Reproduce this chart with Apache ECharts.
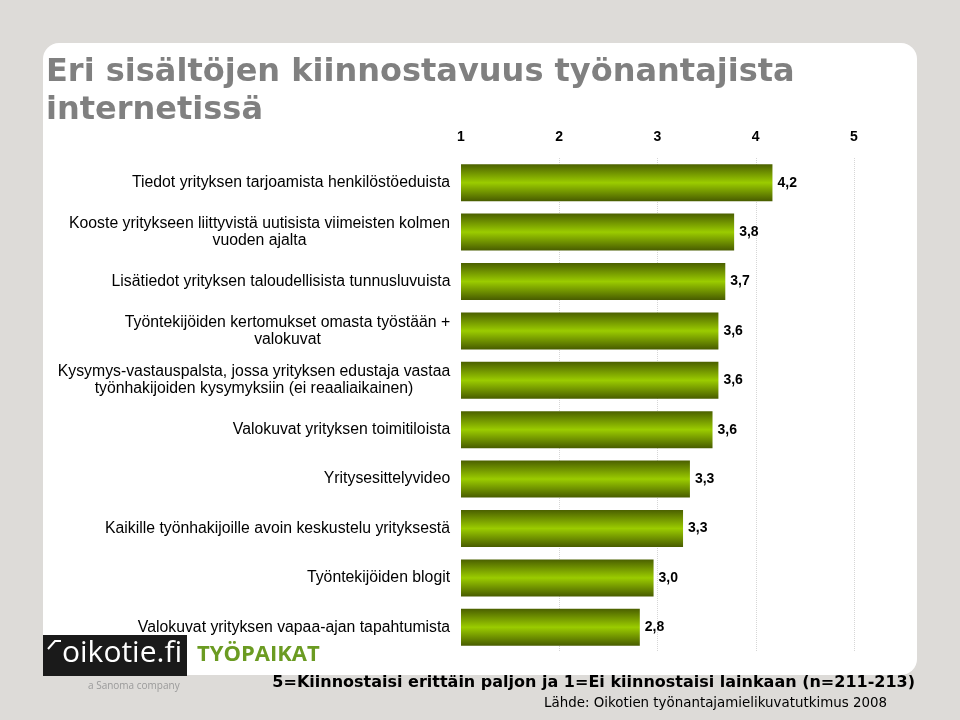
<!DOCTYPE html>
<html>
<head>
<meta charset="utf-8">
<script src="https://cdn.jsdelivr.net/npm/echarts@6/dist/echarts.min.js"></script>
<style>
html,body{margin:0;padding:0;background:#dddbd8;}
#chart{width:960px;height:720px;}
</style>
</head>
<body>
<div id="chart"></div>
<script>
var categories = [
  "Tiedot yrityksen tarjoamista henkilöstöeduista",
  "Kooste yritykseen liittyvistä uutisista viimeisten kolmen\nvuoden ajalta",
  "Lisätiedot yrityksen taloudellisista tunnusluvuista",
  "Työntekijöiden kertomukset omasta työstään +\nvalokuvat",
  "Kysymys-vastauspalsta, jossa yrityksen edustaja vastaa\ntyönhakijoiden kysymyksiin (ei reaaliaikainen)",
  "Valokuvat yrityksen toimitiloista",
  "Yritysesittelyvideo",
  "Kaikille työnhakijoille avoin keskustelu yrityksestä",
  "Työntekijöiden blogit",
  "Valokuvat yrityksen vapaa-ajan tapahtumista"
];
var values = [4.17, 3.78, 3.69, 3.62, 3.62, 3.56, 3.33, 3.26, 2.96, 2.82];
var axisMin = 1;
var axisMax = 5;
var titleLines = ["Eri sisältöjen kiinnostavuus työnantajista", "internetissä"];
var footnote = "5=Kiinnostaisi erittäin paljon ja 1=Ei kiinnostaisi lainkaan (n=211-213)";
var source = "Lähde: Oikotien työnantajamielikuvatutkimus 2008";

var labelSize = 15.8;
var labelFont = labelSize + "px 'Liberation Sans', Arial, sans-serif";
var cv = document.createElement('canvas').getContext('2d');
cv.font = labelFont;
var rich = {};
categories.forEach(function (c, i) {
  var w = 0;
  c.split('\n').forEach(function (l) { w = Math.max(w, cv.measureText(l).width); });
  rich['l' + i] = {
    width: Math.ceil(w) + 1, align: 'center',
    fontFamily: "'Liberation Sans', Arial, sans-serif", fontSize: labelSize,
    color: '#000', lineHeight: 17
  };
});

var chart = echarts.init(document.getElementById('chart'), null, {renderer: 'canvas'});
var option = {
  backgroundColor: '#dddbd8',
  animation: false,
  graphic: [
    {type: 'rect', z: -10, silent: true, shape: {x: 43, y: 43, width: 874, height: 632, r: 16}, style: {fill: '#ffffff'}},
    {type: 'text', left: 46, top: 57, style: {text: titleLines[0], font: "bold 32px 'DejaVu Sans', Verdana, sans-serif", fill: '#808080'}},
    {type: 'text', left: 46, top: 95, style: {text: titleLines[1], font: "bold 32px 'DejaVu Sans', Verdana, sans-serif", fill: '#808080'}},
    {type: 'rect', silent: true, shape: {x: 43, y: 635, width: 144, height: 41}, style: {fill: '#1a1a1a'}},
    {type: 'polyline', silent: true, shape: {points: [[48, 649], [55, 641], [61, 641]]}, style: {stroke: '#ffffff', lineWidth: 2, fill: null}},
    {type: 'text', left: 62, top: 638, style: {text: 'oikotie.fi', font: "30px 'Open Sans', Roboto, sans-serif", fill: '#ffffff'}},
    {type: 'text', left: 197, top: 644, style: {text: 'TYÖPAIKAT', font: "bold 22px 'Open Sans', sans-serif", fill: '#6b9b22'}},
    {type: 'text', left: 88, top: 681, style: {text: 'a Sanoma company', font: "10px 'Open Sans', sans-serif", fill: '#9a9a9a'}},
    {type: 'text', right: 45, top: 675, style: {text: footnote, font: "bold 16px 'DejaVu Sans', Verdana, sans-serif", fill: '#000'}},
    {type: 'text', right: 73, top: 697, style: {text: source, font: "13.4px 'DejaVu Sans', Verdana, sans-serif", fill: '#000'}}
  ],
  grid: {left: 461, right: 106, top: 158, bottom: 68, containLabel: false},
  xAxis: {
    type: 'value', position: 'top', min: axisMin, max: axisMax, interval: 1,
    axisLine: {show: false}, axisTick: {show: false},
    axisLabel: {margin: 14, color: '#000', fontWeight: 'bold', fontSize: 14, fontFamily: "'Liberation Sans', Arial, sans-serif"},
    splitLine: {show: true, showMinLine: false, lineStyle: {type: 'dotted', color: '#d6d6d6', width: 1}}
  },
  yAxis: {
    type: 'category', inverse: true, data: categories,
    axisLine: {show: false}, axisTick: {show: false},
    axisLabel: {
      margin: 10, interval: 0,
      formatter: function (v, i) {
        return v.split('\n').map(function (l) { return '{l' + i + '|' + l + '}'; }).join('\n');
      },
      rich: rich
    }
  },
  series: [{
    type: 'bar', data: values, barWidth: 37,
    itemStyle: {
      color: new echarts.graphic.LinearGradient(0, 0, 0, 1, [
        {offset: 0, color: '#4b6000'},
        {offset: 0.5, color: '#9bcc00'},
        {offset: 1, color: '#485c00'}
      ])
    },
    label: {
      show: true, position: 'right', distance: 5,
      color: '#000', fontWeight: 'bold', fontSize: 14, fontFamily: "'Liberation Sans', Arial, sans-serif",
      formatter: function (p) { return p.value.toFixed(1).replace('.', ','); }
    }
  }]
};
chart.setOption(option);
</script>
</body>
</html>
